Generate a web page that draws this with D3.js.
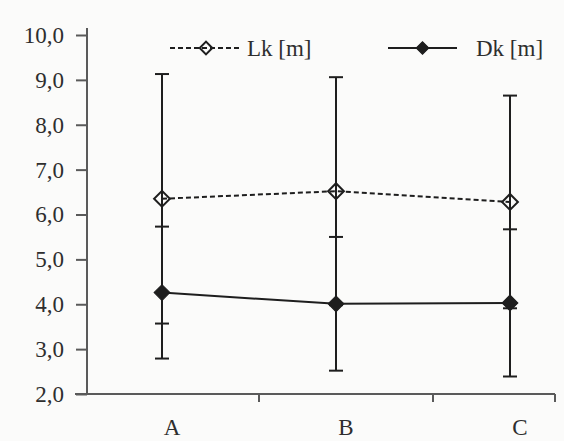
<!DOCTYPE html>
<html>
<head>
<meta charset="utf-8">
<script src="https://cdn.jsdelivr.net/npm/d3@7"></script>
<style>
  html, body { margin: 0; padding: 0; background: #fbfbfa; }
  svg { display: block; }
  text { font-family: "Liberation Serif", "Times New Roman", serif; fill: #2e2e2e; }
</style>
</head>
<body>
<svg id="chart" width="564" height="441"></svg>
<script>
// data
const categories = ['A', 'B', 'C']
const lkMean = [6.35, 6.52, 6.28]
const lkErr  = [2.78, 2.54, 2.37]
const dkMean = [4.26, 4.01, 4.03]
const dkErr  = [1.47, 1.49, 1.64]
const yTicks = [2, 3, 4, 5, 6, 7, 8, 9, 10]
const legendLabels = ['Lk [m]', 'Dk [m]']

// geometry
const frame = { left: 87, right: 555, top: 28, bottom: 394 }
const ink = '#1e1e1e'
const axisInk = '#5a5a5a'
const fontSize = 23

const svg = d3.select('#chart')

const x = d3.scalePoint()
  .domain(categories)
  .range([162, 510])

const y = d3.scaleLinear()
  .domain([2, 10])
  .range([frame.bottom, 35])

const fmt = v => d3.format('.1f')(v).replace('.', ',')

// y axis
svg.append('g')
  .attr('transform', 'translate(' + frame.left + ',0)')
  .call(d3.axisLeft(y).tickValues(yTicks).tickFormat(fmt).tickSize(11).tickPadding(12))
  .call(g => g.select('.domain').attr('d', 'M0,' + frame.top + 'V' + frame.bottom)
    .attr('stroke', axisInk).attr('stroke-width', 2))
  .call(g => g.selectAll('.tick line').attr('stroke', axisInk).attr('stroke-width', 2))
  .call(g => g.selectAll('.tick text')
    .attr('font-size', fontSize).attr('font-family', '"Liberation Serif", serif').attr('fill', '#2e2e2e'))

// x axis
const xAxis = svg.append('g')
  .attr('transform', 'translate(0,' + frame.bottom + ')')
xAxis.append('line')
  .attr('x1', frame.left - 12).attr('x2', frame.right)
  .attr('stroke', axisInk).attr('stroke-width', 2)
const dividers = d3.pairs(categories).map(([a, b]) => (x(a) + x(b)) / 2 + 10).concat([frame.right])
xAxis.selectAll('line.div')
  .data(dividers)
  .join('line')
    .attr('class', 'div')
    .attr('x1', d => d).attr('x2', d => d)
    .attr('y1', 0).attr('y2', 8)
    .attr('stroke', axisInk).attr('stroke-width', 2)
xAxis.selectAll('text')
  .data(categories)
  .join('text')
    .attr('x', d => x(d) + 10)
    .attr('y', 41)
    .attr('text-anchor', 'middle')
    .attr('font-size', fontSize)
    .text(d => d)

// series
const lk = categories.map((c, i) => ({ c, v: lkMean[i], e: lkErr[i] }))
const dk = categories.map((c, i) => ({ c, v: dkMean[i], e: dkErr[i] }))

const line = d3.line().x(d => x(d.c)).y(d => y(d.v))

svg.append('path')
  .datum(lk)
  .attr('d', line)
  .attr('fill', 'none')
  .attr('stroke', ink).attr('stroke-width', 2)
  .attr('stroke-dasharray', '5,3')

svg.append('path')
  .datum(dk)
  .attr('d', line)
  .attr('fill', 'none')
  .attr('stroke', ink).attr('stroke-width', 2)

// error bars
const cap = 7
function errorBars(data) {
  const g = svg.append('g').attr('stroke', ink).attr('stroke-width', 2)
  g.selectAll('line.v')
    .data(data)
    .join('line')
      .attr('x1', d => x(d.c)).attr('x2', d => x(d.c))
      .attr('y1', d => y(d.v + d.e)).attr('y2', d => y(d.v - d.e))
  g.selectAll('line.t')
    .data(data.flatMap(d => [d.v + d.e, d.v - d.e].map(v => ({ c: d.c, v }))))
    .join('line')
      .attr('x1', d => x(d.c) - cap).attr('x2', d => x(d.c) + cap)
      .attr('y1', d => y(d.v)).attr('y2', d => y(d.v))
}
errorBars(lk)
errorBars(dk)

// markers
const diamond = d3.symbol(d3.symbolSquare, 125)
svg.selectAll('path.lk')
  .data(lk)
  .join('path')
    .attr('class', 'lk')
    .attr('d', diamond)
    .attr('transform', d => 'translate(' + x(d.c) + ',' + y(d.v) + ') rotate(45)')
    .attr('fill', 'none').attr('stroke', ink).attr('stroke-width', 2)
svg.selectAll('path.dk')
  .data(dk)
  .join('path')
    .attr('class', 'dk')
    .attr('d', diamond)
    .attr('transform', d => 'translate(' + x(d.c) + ',' + y(d.v) + ') rotate(45)')
    .attr('fill', ink).attr('stroke', ink).attr('stroke-width', 1)

// legend
const legend = [
  { label: legendLabels[0], x1: 170, x2: 242, tx: 247, dash: '5,3', fill: 'none' },
  { label: legendLabels[1], x1: 388, x2: 457, tx: 476, dash: null, fill: ink },
]
const lg = svg.append('g').attr('transform', 'translate(0,48)')
legend.forEach(l => {
  lg.append('line')
    .attr('x1', l.x1).attr('x2', l.x2)
    .attr('stroke', ink).attr('stroke-width', 2)
    .attr('stroke-dasharray', l.dash)
  lg.append('path')
    .attr('d', d3.symbol(d3.symbolSquare, 80))
    .attr('transform', 'translate(' + (l.x1 + l.x2) / 2 + ',0) rotate(45)')
    .attr('fill', l.fill).attr('stroke', ink).attr('stroke-width', l.fill === 'none' ? 2 : 1)
  lg.append('text')
    .attr('x', l.tx)
    .attr('y', 8)
    .attr('font-size', fontSize)
    .text(l.label)
})
</script>
</body>
</html>
